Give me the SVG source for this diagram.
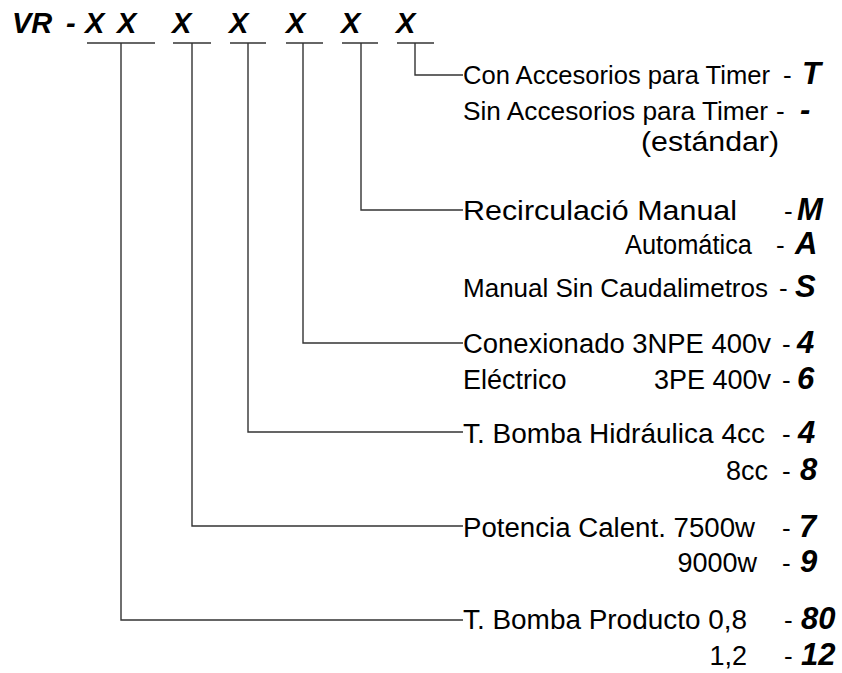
<svg xmlns="http://www.w3.org/2000/svg" width="842" height="673" viewBox="0 0 842 673">
<style>
.d{font-family:"Liberation Sans",Arial,sans-serif;font-size:27px;fill:#000}
.h{font-family:"Liberation Sans",Arial,sans-serif;font-size:26px;fill:#000}
.c{font-family:"Liberation Sans",Arial,sans-serif;font-size:31px;font-weight:bold;font-style:italic;fill:#000}
.t{font-family:"Liberation Sans",Arial,sans-serif;font-size:29px;font-weight:bold;font-style:italic;fill:#000}
.ln{stroke:#333;stroke-width:1.4;fill:none}
</style>
<rect width="842" height="673" fill="#fff"/>
<g id="code">
<text class="t" x="12" y="33">VR</text>
<text class="t" x="66" y="33">-</text>
<text class="t" x="85" y="33">X</text>
<text class="t" x="117" y="33">X</text>
<text class="t" x="172" y="33">X</text>
<text class="t" x="229" y="33">X</text>
<text class="t" x="286" y="33">X</text>
<text class="t" x="341" y="33">X</text>
<text class="t" x="396" y="33">X</text>
</g>
<g id="connectors" class="ln">
<line x1="87" y1="43" x2="155" y2="43"/>
<line x1="173" y1="43" x2="211" y2="43"/>
<line x1="230" y1="43" x2="266" y2="43"/>
<line x1="286" y1="43" x2="323" y2="43"/>
<line x1="342" y1="43" x2="378" y2="43"/>
<line x1="397" y1="43" x2="434" y2="43"/>
<polyline points="415,43 415,75 463,75"/>
<polyline points="361,43 361,210 463,210"/>
<polyline points="303,43 303,343 463,343"/>
<polyline points="248,43 248,432 463,432"/>
<polyline points="192,43 192,526 463,526"/>
<polyline points="121,43 121,620 463,620"/>
</g>
<g id="timer">
<text class="h" x="463" y="84" textLength="307" lengthAdjust="spacingAndGlyphs">Con Accesorios para Timer</text>
<text class="h" x="783" y="84">-</text>
<text class="c" x="802" y="84">T</text>
<text class="h" x="463" y="120" textLength="305" lengthAdjust="spacingAndGlyphs">Sin Accesorios para Timer</text>
<text class="h" x="776" y="120">-</text>
<text class="c" x="800" y="120">-</text>
<text class="d" x="641" y="151" textLength="138" lengthAdjust="spacingAndGlyphs">(estándar)</text>
</g>
<g id="recirculacion">
<text class="d" x="463" y="220" textLength="274" lengthAdjust="spacingAndGlyphs">Recirculació Manual</text>
<text class="h" x="784" y="220">-</text>
<text class="c" x="797" y="220">M</text>
<text class="d" x="625" y="254" textLength="127" lengthAdjust="spacingAndGlyphs">Automática</text>
<text class="h" x="776" y="254">-</text>
<text class="c" x="795" y="254">A</text>
<text class="h" x="463" y="297" textLength="305" lengthAdjust="spacingAndGlyphs">Manual Sin Caudalimetros</text>
<text class="h" x="779" y="297">-</text>
<text class="c" x="795" y="297">S</text>
</g>
<g id="conexionado">
<text class="d" x="463" y="353" textLength="308" lengthAdjust="spacingAndGlyphs">Conexionado 3NPE 400v</text>
<text class="h" x="782" y="353">-</text>
<text class="c" x="797" y="353">4</text>
<text class="d" x="463" y="389">Eléctrico</text>
<text class="d" x="771" y="389" text-anchor="end">3PE 400v</text>
<text class="h" x="782" y="389">-</text>
<text class="c" x="797" y="389">6</text>
</g>
<g id="bomba-hidraulica">
<text class="d" x="463" y="443" textLength="302" lengthAdjust="spacingAndGlyphs">T. Bomba Hidráulica 4cc</text>
<text class="h" x="782" y="443">-</text>
<text class="c" x="798" y="443">4</text>
<text class="d" x="768" y="480" text-anchor="end">8cc</text>
<text class="h" x="782" y="480">-</text>
<text class="c" x="800" y="480">8</text>
</g>
<g id="potencia">
<text class="d" x="463" y="537" textLength="292" lengthAdjust="spacingAndGlyphs">Potencia Calent. 7500w</text>
<text class="h" x="782" y="537">-</text>
<text class="c" x="799" y="537">7</text>
<text class="d" x="757" y="572" text-anchor="end">9000w</text>
<text class="h" x="782" y="572">-</text>
<text class="c" x="800" y="572">9</text>
</g>
<g id="bomba-producto">
<text class="d" x="463" y="629" textLength="284" lengthAdjust="spacingAndGlyphs">T. Bomba Producto 0,8</text>
<text class="h" x="784" y="629">-</text>
<text class="c" x="801" y="629">80</text>
<text class="d" x="747" y="665" text-anchor="end">1,2</text>
<text class="h" x="784" y="665">-</text>
<text class="c" x="801" y="665">12</text>
</g>
</svg>
